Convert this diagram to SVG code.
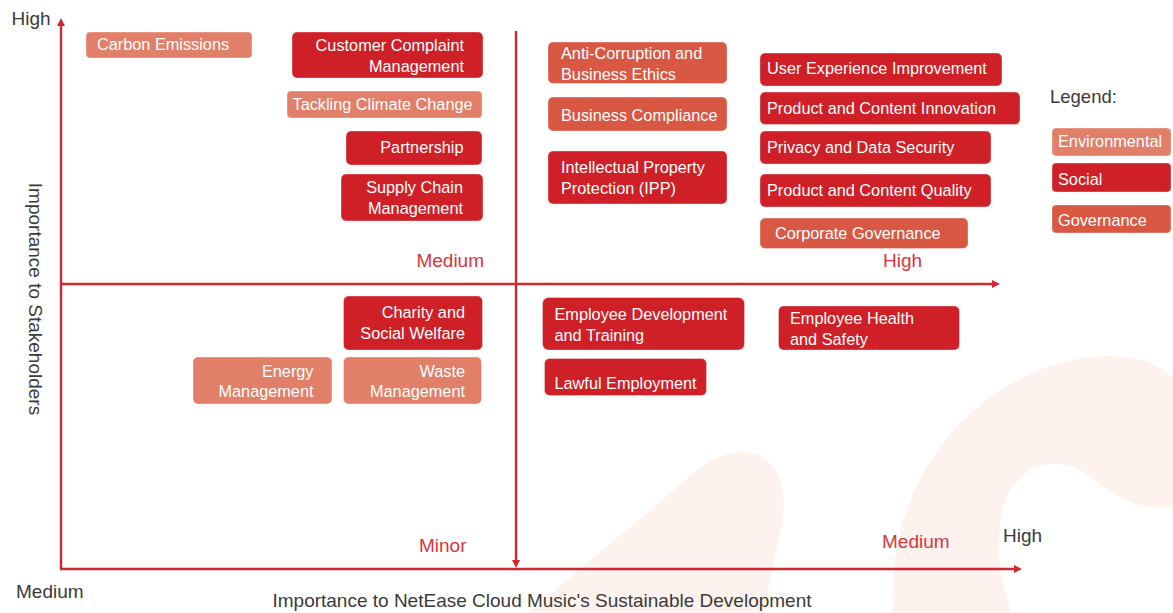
<svg xmlns="http://www.w3.org/2000/svg" width="1173" height="613" viewBox="0 0 1173 613">
  <style>
    text { font-family: "Liberation Sans", Arial, sans-serif; }
    .box { stroke: #ffffff; stroke-opacity: 0.35; stroke-width: 1; }
    .env { fill: #E27F68; }
    .soc { fill: #CF2027; }
    .gov { fill: #D95843; }
    .lbl { fill: #ffffff; font-size: 16.3px; }
    .end { text-anchor: end; }
    .axis { stroke: #D42630; stroke-width: 2.4; fill: none; }
    .lvl { fill: #D9343C; font-size: 19px; }
    .dark { fill: #3a3a3a; font-size: 19px; }
  </style>
  <defs>
    <marker id="arrow" markerUnits="userSpaceOnUse" markerWidth="9" markerHeight="9" refX="0" refY="4" orient="auto">
      <path d="M0,0 L8,4 L0,8 Z" fill="#D42630"/>
    </marker>
  </defs>

  <rect width="1173" height="613" fill="#ffffff"/>

  <!-- faint background brand strokes -->
  <g id="backdrop" fill="#FDF2EE">
    <path d="M528 613 L700 468 C725 448 760 445 776 470 C790 495 782 530 774 560 L764 613 Z"/>
    <path d="M893 613 C886 505 945 405 1045 368 C1105 346 1155 358 1173 378 L1173 506 C1148 512 1118 500 1095 480 C1062 452 1022 462 1006 498 C994 530 998 580 1012 613 Z"/>
  </g>

  <!-- axes -->
  <g id="connectors">
    <line class="axis" x1="61" y1="569" x2="61" y2="26" marker-end="url(#arrow)"/>
    <line class="axis" x1="60" y1="569" x2="1014" y2="569" marker-end="url(#arrow)"/>
    <line class="axis" x1="61" y1="284" x2="992" y2="284" marker-end="url(#arrow)"/>
    <line class="axis" x1="516" y1="31" x2="516" y2="560" marker-end="url(#arrow)"/>
  </g>

  <!-- axis labels -->
  <g id="axis-labels">
    <text class="dark" x="11.5" y="25">High</text>
    <text class="dark" x="16" y="598">Medium</text>
    <text class="dark" x="1003" y="541.5">High</text>
    <text class="dark" x="542" y="607" text-anchor="middle">Importance to NetEase Cloud Music's Sustainable Development</text>
    <text class="dark" transform="translate(29 299) rotate(90)" text-anchor="middle">Importance to Stakeholders</text>
    <text class="lvl end" x="484" y="267">Medium</text>
    <text class="lvl" x="883" y="267">High</text>
    <text class="lvl" x="419" y="552">Minor</text>
    <text class="lvl" x="882" y="548">Medium</text>
  </g>

  <!-- upper-left quadrant -->
  <g id="carbon-emissions">
    <rect class="box env" x="86" y="32" width="166" height="26" rx="4"/>
    <text class="lbl" x="97" y="50">Carbon Emissions</text>
  </g>
  <g id="customer-complaint">
    <rect class="box soc" x="292" y="32" width="191" height="46" rx="5"/>
    <text class="lbl end" x="464" y="50.5">Customer Complaint</text>
    <text class="lbl end" x="464" y="71.5">Management</text>
  </g>
  <g id="climate-change">
    <rect class="box env" x="287" y="91" width="195" height="27" rx="4"/>
    <text class="lbl" x="292.5" y="110">Tackling Climate Change</text>
  </g>
  <g id="partnership">
    <rect class="box soc" x="346" y="131" width="136" height="34" rx="5"/>
    <text class="lbl end" x="463.5" y="153.3">Partnership</text>
  </g>
  <g id="supply-chain">
    <rect class="box soc" x="341" y="174" width="142" height="47" rx="5"/>
    <text class="lbl end" x="463" y="193.3">Supply Chain</text>
    <text class="lbl end" x="463" y="214">Management</text>
  </g>

  <!-- upper-right quadrant -->
  <g id="anti-corruption">
    <rect class="box gov" x="548" y="42" width="179" height="41.5" rx="5"/>
    <text class="lbl" x="561" y="59.3">Anti-Corruption and</text>
    <text class="lbl" x="561" y="80">Business Ethics</text>
  </g>
  <g id="business-compliance">
    <rect class="box gov" x="548" y="97" width="179" height="34" rx="5"/>
    <text class="lbl" x="561" y="120.7">Business Compliance</text>
  </g>
  <g id="ipp">
    <rect class="box soc" x="548" y="151" width="179" height="53" rx="5"/>
    <text class="lbl" x="561" y="173.3">Intellectual Property</text>
    <text class="lbl" x="561" y="194">Protection (IPP)</text>
  </g>
  <g id="user-experience">
    <rect class="box soc" x="760" y="53" width="242" height="33" rx="5"/>
    <text class="lbl" x="767" y="74.3">User Experience Improvement</text>
  </g>
  <g id="content-innovation">
    <rect class="box soc" x="760" y="92" width="260" height="32.5" rx="5"/>
    <text class="lbl" x="767" y="114">Product and Content Innovation</text>
  </g>
  <g id="privacy">
    <rect class="box soc" x="760" y="131" width="231" height="33" rx="5"/>
    <text class="lbl" x="767" y="153.3">Privacy and Data Security</text>
  </g>
  <g id="content-quality">
    <rect class="box soc" x="760" y="174" width="231" height="33" rx="5"/>
    <text class="lbl" x="767" y="196">Product and Content Quality</text>
  </g>
  <g id="corporate-governance">
    <rect class="box gov" x="760" y="218" width="208" height="30.5" rx="5"/>
    <text class="lbl" x="775" y="239.3">Corporate Governance</text>
  </g>

  <!-- lower-left quadrant -->
  <g id="charity">
    <rect class="box soc" x="343.5" y="296" width="139" height="54" rx="5"/>
    <text class="lbl end" x="465" y="318.3">Charity and</text>
    <text class="lbl end" x="465" y="339">Social Welfare</text>
  </g>
  <g id="energy">
    <rect class="box env" x="193" y="357" width="139" height="47" rx="5"/>
    <text class="lbl end" x="313.5" y="376.7">Energy</text>
    <text class="lbl end" x="313.5" y="396.7">Management</text>
  </g>
  <g id="waste">
    <rect class="box env" x="343.5" y="357" width="138" height="47" rx="5"/>
    <text class="lbl end" x="465" y="376.7">Waste</text>
    <text class="lbl end" x="465" y="396.7">Management</text>
  </g>

  <!-- lower-right quadrant -->
  <g id="employee-development">
    <rect class="box soc" x="542.5" y="297.5" width="202" height="52.5" rx="6"/>
    <text class="lbl" x="554.5" y="320">Employee Development</text>
    <text class="lbl" x="554.5" y="340.7">and Training</text>
  </g>
  <g id="employee-health">
    <rect class="box soc" x="778.5" y="306" width="181" height="44" rx="5"/>
    <text class="lbl" x="790" y="324.3">Employee Health</text>
    <text class="lbl" x="790" y="345">and Safety</text>
  </g>
  <g id="lawful-employment">
    <rect class="box soc" x="544.5" y="358.5" width="162" height="37" rx="5"/>
    <text class="lbl" x="554.5" y="389.3">Lawful Employment</text>
  </g>

  <!-- legend -->
  <g id="legend">
    <text x="1050" y="103" fill="#3a3a3a" font-size="18.5px">Legend:</text>
    <rect class="box env" x="1052" y="128" width="119" height="28" rx="4"/>
    <text class="lbl" x="1058" y="147">Environmental</text>
    <rect class="box soc" x="1052" y="163" width="119" height="29" rx="4"/>
    <text class="lbl" x="1058" y="185">Social</text>
    <rect class="box gov" x="1052" y="205" width="119" height="28" rx="4"/>
    <text class="lbl" x="1058" y="225.7">Governance</text>
  </g>
</svg>
